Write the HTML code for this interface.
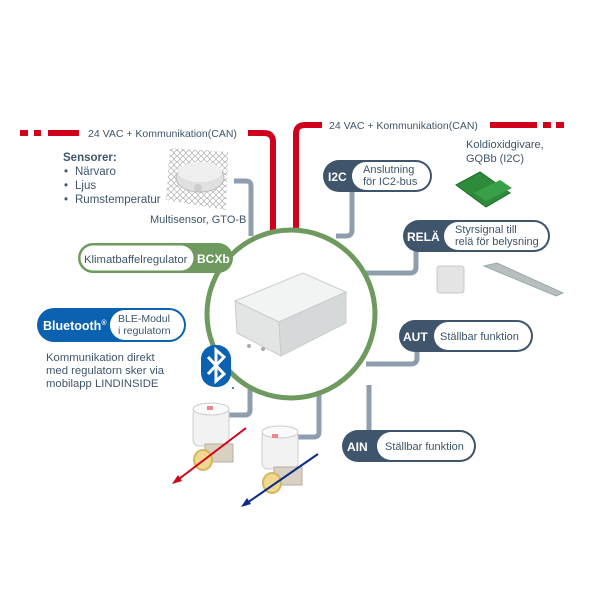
<!DOCTYPE html>
<html><head><meta charset="utf-8"><style>
html,body{margin:0;padding:0;background:#fff;}
svg{display:block;font-family:"Liberation Sans",sans-serif;}
</style></head><body>
<svg width="600" height="600" viewBox="0 0 600 600" xmlns="http://www.w3.org/2000/svg">
<defs>
<pattern id="hex" width="6" height="6" patternUnits="userSpaceOnUse">
<circle cx="3" cy="3" r="2.4" fill="none" stroke="#999" stroke-width="0.6"/>
</pattern>
</defs>
<rect width="600" height="600" fill="#fff"/>
<g stroke="#d0021b" stroke-width="6" fill="none">
<line x1="20" y1="133" x2="28" y2="133"/>
<line x1="34" y1="133" x2="41" y2="133"/>
<line x1="48" y1="133" x2="79" y2="133"/>
<path d="M248 133 H264 Q273 133 273 142 V232"/>
<path d="M296 232 V134 Q296 125 305 125 H322"/>
<line x1="490" y1="125" x2="537" y2="125"/>
<line x1="543" y1="125" x2="551" y2="125"/>
<line x1="556" y1="125" x2="564" y2="125"/>
</g>
<g fill="#3e556b" font-size="10.5">
<text x="88" y="137">24 VAC + Kommunikation(CAN)</text>
<text x="329" y="129">24 VAC + Kommunikation(CAN)</text>
</g>
<g stroke="#8f9eae" stroke-width="5" fill="none">
<path d="M234 181 H246 Q251 181 251 186 V236"/>
<path d="M352 190 V230 Q352 236 346 236 H336"/>
<path d="M416 250 V267 Q416 273 410 273 H366"/>
<path d="M417 350 V358 Q417 364 411 364 H366"/>
<path d="M369 385 V432"/>
<path d="M319 385 V432 Q319 437 314 437 H295"/>
<path d="M250 388 V410 Q250 415 245 415 H224"/>
</g>
<circle cx="291" cy="314" r="84" fill="#fff" stroke="#6f9a5f" stroke-width="5"/>
<g stroke="#c9cccd" stroke-width="1">
<polygon points="235,301 303,273 346,292 279,322" fill="#f2f3f3"/>
<polygon points="235,301 279,322 281,356 237,333" fill="#e3e5e5"/>
<polygon points="279,322 346,292 346,323 281,356" fill="#d6d9d9"/>
</g>
<circle cx="249" cy="346" r="2" fill="#aaa"/><circle cx="263" cy="349" r="2" fill="#aaa"/>
<polygon points="170,148 228,152 226,210 166,200" fill="url(#hex)"/>
<ellipse cx="200" cy="178" rx="24" ry="14" fill="#e0e0e0" stroke="#bbb"/>
<ellipse cx="200" cy="172" rx="22" ry="10" fill="#efefef"/>
<circle cx="198" cy="188" r="4" fill="#ccc"/>
<g fill="#3e556b" font-size="11.5">
<text x="63" y="161" font-weight="bold">Sensorer:</text>
<text x="64" y="175">•</text><text x="75" y="175">Närvaro</text>
<text x="64" y="189">•</text><text x="75" y="189">Ljus</text>
<text x="64" y="203">•</text><text x="75" y="203">Rumstemperatur</text>
<text x="150" y="223" font-size="11">Multisensor, GTO-B</text>
</g>
<rect x="78" y="243" width="155" height="30" rx="15" fill="#6f9a5f"/>
<rect x="80.5" y="245.5" width="113" height="25" rx="12.5" fill="#fff"/>
<text x="84" y="263" font-size="11.3" fill="#3e556b">Klimatbaffelregulator</text>
<text x="197" y="263" font-size="12" font-weight="bold" fill="#fff">BCXb</text>
<rect x="37" y="308" width="149" height="34" rx="17" fill="#0a62b0"/>
<rect x="110" y="310" width="74" height="30" rx="15" fill="#fff"/>
<text x="43" y="330" font-size="12.5" font-weight="bold" fill="#fff">Bluetooth<tspan font-size="7" dy="-5">®</tspan></text>
<text x="118" y="322" font-size="10.5" fill="#3e556b">BLE-Modul</text>
<text x="118" y="334" font-size="10.5" fill="#3e556b">i regulatorn</text>
<g fill="#3e556b" font-size="11.3">
<text x="46" y="361">Kommunikation direkt</text>
<text x="46" y="374">med regulatorn sker via</text>
<text x="46" y="387">mobilapp LINDINSIDE</text>
</g>
<rect x="201" y="345" width="30" height="42" rx="14" fill="#0a62b0"/>
<path d="M208 357 L224 374 L216 381 V350 L224 357 L208 374" stroke="#fff" stroke-width="3" fill="none"/>
<circle cx="233" cy="388" r="1" fill="#0a62b0"/>
<g>
<rect x="193" y="408" width="36" height="38" rx="6" fill="#f2f2f2" stroke="#ccc"/>
<ellipse cx="211" cy="409" rx="18" ry="6" fill="#fafafa" stroke="#ccc"/>
<rect x="207" y="406" width="6" height="4" fill="#e88"/>
<rect x="205" y="444" width="28" height="18" fill="#d8d0c0" stroke="#b8ae9e"/>
<ellipse cx="203" cy="460" rx="9" ry="10" fill="#f0d890" stroke="#d4b860" stroke-width="2"/>
<line x1="246" y1="428" x2="175" y2="482" stroke="#d0021b" stroke-width="2"/>
<polygon points="172,484 178,475 182,481" fill="#d0021b"/>
</g>
<g>
<rect x="262" y="431" width="36" height="38" rx="6" fill="#f2f2f2" stroke="#ccc"/>
<ellipse cx="280" cy="432" rx="18" ry="6" fill="#fafafa" stroke="#ccc"/>
<rect x="272" y="434" width="6" height="4" fill="#e88"/>
<rect x="274" y="467" width="28" height="18" fill="#d8d0c0" stroke="#b8ae9e"/>
<ellipse cx="272" cy="483" rx="9" ry="10" fill="#f0d890" stroke="#d4b860" stroke-width="2"/>
<line x1="318" y1="454" x2="244" y2="505" stroke="#0d2a8a" stroke-width="2"/>
<polygon points="241,507 247,498 251,504" fill="#0d2a8a"/>
</g>
<g font-size="11" fill="#3e556b">
<rect x="323" y="160" width="109" height="32" rx="16" fill="#3e556b"/>
<rect x="352" y="162" width="78" height="28" rx="14" fill="#fff"/>
<text x="328" y="181" font-size="12" font-weight="bold" fill="#fff">I2C</text>
<text x="363" y="173">Anslutning</text><text x="363" y="185">för IC2-bus</text>
<rect x="403" y="220" width="147" height="32" rx="16" fill="#3e556b"/>
<rect x="444" y="222" width="104" height="28" rx="14" fill="#fff"/>
<text x="407" y="241" font-size="12" font-weight="bold" fill="#fff">RELÄ</text>
<text x="455" y="233">Styrsignal till</text><text x="455" y="245">relä för belysning</text>
<rect x="399" y="320" width="134" height="32" rx="16" fill="#3e556b"/>
<rect x="434" y="322" width="97" height="28" rx="14" fill="#fff"/>
<text x="403" y="341" font-size="12" font-weight="bold" fill="#fff">AUT</text>
<text x="440" y="340">Ställbar funktion</text>
<rect x="342" y="430" width="134" height="32" rx="16" fill="#3e556b"/>
<rect x="377" y="432" width="97" height="28" rx="14" fill="#fff"/>
<text x="347" y="451" font-size="12" font-weight="bold" fill="#fff">AIN</text>
<text x="385" y="450">Ställbar funktion</text>
<text x="466" y="148">Koldioxidgivare,</text>
<text x="466" y="162">GQBb (I2C)</text>
</g>
<polygon points="456,185 480,172 510,193 486,207" fill="#2e8b3a" stroke="#1f6a2a"/>
<polygon points="474,193 500,180 512,188 486,201" fill="#3aa048"/>
<rect x="437" y="266" width="27" height="27" rx="3" fill="#e4e4e4" stroke="#c8c8c8"/>
<polygon points="484,266 497,263 563,293 556,296" fill="#b8bdbd" stroke="#9aa"/>
</svg>
</body></html>
